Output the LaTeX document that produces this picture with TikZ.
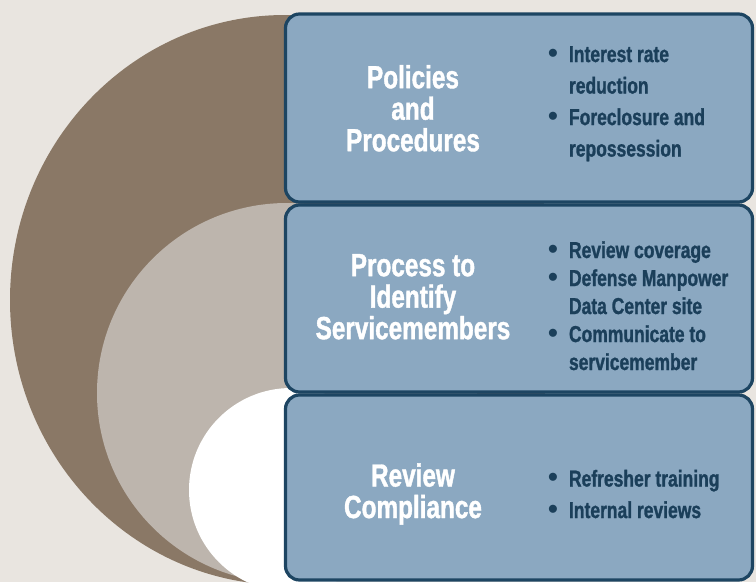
\documentclass[tikz,border=0pt]{standalone}
\usepackage{fontspec}
\setmainfont{Liberation Sans}[FakeStretch=0.76, BoldFeatures={FakeBold=1.2}]
\newfontfamily\dotfont{Liberation Sans}

\definecolor{bgbeige}{HTML}{E9E5E0}
\definecolor{ringbrown}{HTML}{8A7866}
\definecolor{ringtaupe}{HTML}{BDB5AD}
\definecolor{boxblue}{HTML}{8BA8C1}
\definecolor{boxline}{HTML}{1D4562}
\definecolor{listnavy}{HTML}{1B3F5A}

\newcommand{\bdot}{{\dotfont\fontsize{28}{28}\selectfont\char"2022}}
\newcommand{\itemlist}[1]{\begin{tabular}{@{}l@{\hspace{11pt}}l@{}}#1\end{tabular}}

\tikzset{
  stagebox/.style={draw=boxline, line width=3.2pt, fill=boxblue, rounded corners=14pt,
    minimum width=467pt, inner sep=0pt},
  stagetitle/.style={text=white, align=center, inner sep=0pt,
    font=\bfseries\fontsize{32}{31.5}\selectfont},
  stagelist/.style={text=listnavy, anchor=west, inner sep=0pt,
    font=\bfseries\fontsize{23}{31.5}\selectfont}
}

\begin{document}
\begin{tikzpicture}[x=1pt,y=-1pt]

\useasboundingbox (0,0) rectangle (756,582);
\clip (0,0) rectangle (756,582);
\fill[bgbeige] (0,0) rectangle (756,582);

% rings behind the boxes
\fill[ringbrown] (285,300) ellipse [x radius=275pt, y radius=285pt];
\fill[ringtaupe] (287,393) circle [radius=190pt];
\fill[white] (291,490) circle [radius=102pt];

% the three stages
\foreach \name/\top/\bot in {policies/14/202, process/205/392, review/395/580} {
    \node[stagebox, minimum height=\bot-\top] (\name) at (519,{(\top+\bot)/2}) {};
}

\node[stagetitle] (policiestitle) at (413,108.3) {Policies\\and\\Procedures};
\node[stagetitle] (processtitle) at (413,296.8) {Process to\\Identify\\Servicemembers};
\node[stagetitle] (reviewtitle) at (413,494) {Review\\Compliance};

\node[stagelist] (policieslist) at (548,103) {\itemlist{
  \bdot & Interest rate\\ & reduction\\
  \bdot & Foreclosure and\\ & repossession}};
\node[stagelist, font=\bfseries\fontsize{23}{28}\selectfont] (processlist) at (548,308.4) {\itemlist{
  \bdot & Review coverage\\
  \bdot & Defense Manpower\\ & Data Center site\\
  \bdot & Communicate to\\ & servicemember}};
\node[stagelist] (reviewlist) at (548,496) {\itemlist{
  \bdot & Refresher training\\
  \bdot & Internal reviews}};

\end{tikzpicture}
\end{document}
